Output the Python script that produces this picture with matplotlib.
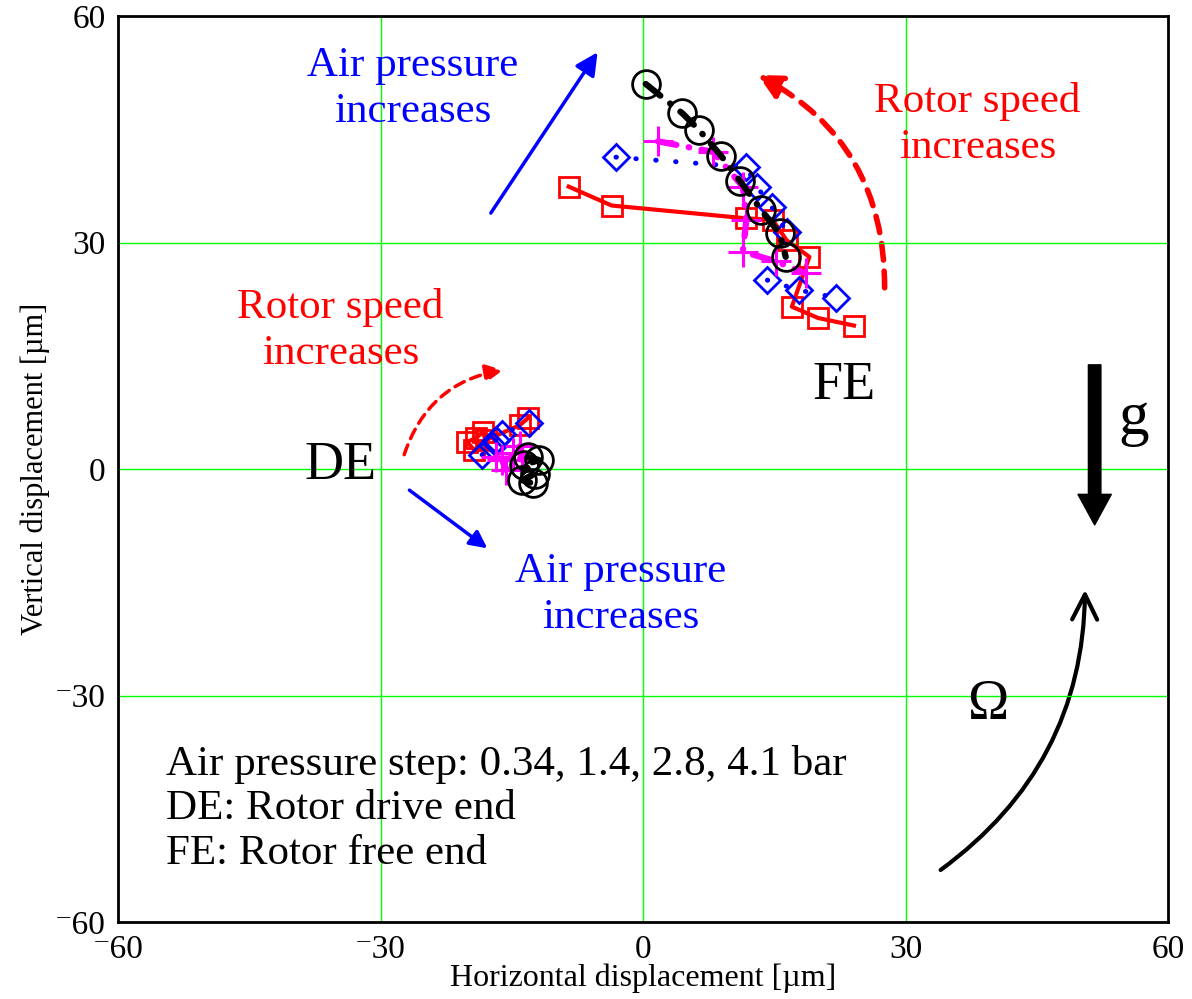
import matplotlib
matplotlib.use("Agg")
import matplotlib.pyplot as plt
from matplotlib.patches import FancyArrowPatch

plt.rcParams['font.family'] = ['Liberation Serif', 'DejaVu Serif']

# front end (FE) points, one list per air pressure step
fe_circle_x = [0.3, 4.5, 6.4, 8.9, 11.1, 13.5, 15.6, 16.3]
fe_circle_y = [51.0, 47.1, 44.9, 41.5, 38.1, 34.3, 31.2, 28.1]
fe_diamond_x = [-3.1, 11.8, 13.0, 14.7, 16.4, 14.2, 17.8, 22.0]
fe_diamond_y = [41.3, 40.0, 37.4, 34.7, 31.4, 25.0, 23.7, 22.7]
fe_plus_x = [1.7, 8.0, 11.4, 11.8, 11.4, 15.2, 18.6]
fe_plus_y = [43.4, 42.0, 37.4, 33.0, 28.8, 27.5, 25.9]
fe_square_x = [-8.5, -3.6, 11.8, 14.8, 16.4, 19.0, 17.0, 20.0, 24.1]
fe_square_y = [37.4, 34.9, 33.2, 33.0, 30.3, 28.1, 21.5, 20.0, 19.0]

# drive end (DE) points
de_circle_x = [-13.2, -11.9, -13.6, -12.4, -13.8, -12.6]
de_circle_y = [1.6, 1.2, 0.5, -0.6, -1.5, -1.9]
de_diamond_x = [-18.4, -17.2, -16.8, -16.1, -13.0]
de_diamond_y = [1.9, 3.0, 3.8, 4.7, 6.1]
de_plus_x = [-16.8, -16.1, -15.7, -14.9, -13.8, -14.1]
de_plus_y = [1.6, 1.2, -0.1, 2.1, 1.2, 3.0]
de_square_x = [-19.3, -20.1, -19.1, -18.3, -18.0, -14.1, -13.2]
de_square_y = [2.5, 3.6, 4.1, 4.9, 3.8, 5.8, 6.7]

ticks = [-60, -30, 0, 30, 60]
tick_labels = ['\u207b60', '\u207b30', '0', '30', '60']

fig = plt.figure(figsize=(11.92, 9.99), dpi=100)
ax = fig.add_axes([0.099, 0.077, 0.881, 0.907])

for xs, ys in [(fe_square_x, fe_square_y), (de_square_x, de_square_y)]:
    ax.plot(xs, ys, color='red', lw=3, marker='s', ms=14, mfc='none',
            mec='red', mew=2)
for xs, ys in [(fe_diamond_x, fe_diamond_y), (de_diamond_x, de_diamond_y)]:
    ax.plot(xs, ys, color='blue', lw=3.5, ls=(0, (0.1, 4)), dash_capstyle='round',
            marker='D', ms=13, mfc='none', mec='blue', mew=2)
for xs, ys in [(fe_plus_x, fe_plus_y), (de_plus_x, de_plus_y)]:
    ax.plot(xs, ys, color='magenta', lw=4.5, ls=(0, (3, 2, 0.1, 2)),
            dash_capstyle='round', marker='+', ms=22, mew=2.2)
for xs, ys in [(fe_circle_x, fe_circle_y), (de_circle_x, de_circle_y)]:
    ax.plot(xs, ys, color='black', lw=4.5, ls=(0, (3, 2, 0.1, 2)),
            dash_capstyle='round', marker='o', ms=20, mfc='none',
            mec='black', mew=2)

ax.set_xlim(-60, 60)
ax.set_ylim(-60, 60)
ax.set_xticks(ticks)
ax.set_yticks(ticks)
ax.set_xticklabels(tick_labels, fontsize=24)
ax.set_yticklabels(tick_labels, fontsize=24)
ax.tick_params(axis='x', length=0, pad=9)
ax.tick_params(axis='y', length=0, pad=9)
ax.grid(True, color='#00ff00', lw=1)
for s in ax.spines.values():
    s.set_linewidth(2)
ax.set_xlabel('Horizontal displacement [\u00b5m]', fontsize=23, labelpad=-1)
ax.set_ylabel('Vertical displacement [\u00b5m]', fontsize=22, labelpad=3)

# annotations
ax.add_patch(FancyArrowPatch((-17.4, 33.9), (-5.2, 55.2), arrowstyle='-|>',
                             mutation_scale=34, color='blue', lw=2.5,
                             shrinkA=0, shrinkB=0))
ax.add_patch(FancyArrowPatch((-26.7, -2.8), (-17.8, -10.5), arrowstyle='-|>',
                             mutation_scale=26, color='blue', lw=2.5,
                             shrinkA=0, shrinkB=0))
ax.add_patch(FancyArrowPatch((27.6, 24.0), (13.1, 52.2), arrowstyle='-|>',
                             connectionstyle='arc3,rad=0.3', mutation_scale=36,
                             color='red', lw=4, ls=(0, (3, 2)),
                             shrinkA=0, shrinkB=0))
ax.add_patch(FancyArrowPatch((-27.3, 1.9), (-16.0, 13.1), arrowstyle='-|>',
                             connectionstyle='arc3,rad=-0.3', mutation_scale=26,
                             color='red', lw=2.5, ls=(0, (3, 2)),
                             shrinkA=0, shrinkB=0))
ax.add_patch(FancyArrowPatch((34.0, -53.1), (50.5, -16.0), arrowstyle='->',
                             connectionstyle='arc3,rad=0.25', mutation_scale=45,
                             color='black', lw=3, shrinkA=0, shrinkB=0))
ax.annotate('', xy=(51.6, -7.4), xytext=(51.6, 13.8),
            arrowprops=dict(facecolor='black', edgecolor='black', width=9,
                            headwidth=24, headlength=22, shrink=0))

ax.text(-26.3, 50.4, 'Air pressure\nincreases', color='blue', fontsize=31,
        ha='center', va='center', linespacing=1.25)
ax.text(-2.6, -16.7, 'Air pressure\nincreases', color='blue', fontsize=31,
        ha='center', va='center', linespacing=1.25)
ax.text(38.2, 45.6, 'Rotor speed\nincreases', color='red', fontsize=31,
        ha='center', va='center', linespacing=1.25)
ax.text(-34.6, 18.4, 'Rotor speed\nincreases', color='red', fontsize=31,
        ha='center', va='center', linespacing=1.25)
ax.text(-34.6, 0.5, 'DE', fontsize=39, ha='center', va='center')
ax.text(23.0, 11.0, 'FE', fontsize=39, ha='center', va='center')
ax.text(56.0, 6.6, 'g', fontsize=44, ha='center', va='center')
ax.text(39.4, -31.3, '\u03a9', fontsize=40, ha='center', va='center')
ax.text(-54.5, -45.0, 'Air pressure step: 0.34, 1.4, 2.8, 4.1 bar\n'
        'DE: Rotor drive end\nFE: Rotor free end', fontsize=31,
        ha='left', va='center', linespacing=1.2)

fig.savefig('out.png', dpi=100)
